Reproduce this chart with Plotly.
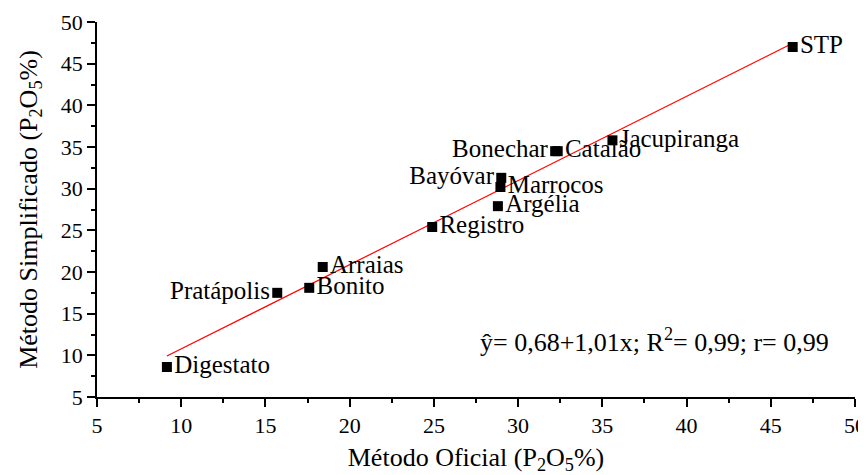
import plotly.graph_objects as go

names = ["Digestato", "Pratápolis", "Bonito", "Arraias", "Registro", "Argélia",
         "Marrocos", "Bayóvar", "Bonechar", "Catalão", "Jacupiranga", "STP"]
oficial = [9.15, 15.7, 17.6, 18.4, 24.9, 28.8, 28.95, 29.0, 32.2, 32.35, 35.6, 46.3]
simplificado = [8.6, 17.5, 18.1, 20.6, 25.4, 27.9, 30.2, 31.3, 34.5, 34.5, 35.8, 47.0]
label_pos = ["middle right", "middle left", "middle right", "middle right", "middle right",
             "middle right", "middle right", "middle left", "middle left", "middle right",
             "middle right", "middle right"]

intercept = 0.68
slope = 1.01
fit_x = [min(oficial), max(oficial)]
fit_y = [intercept + slope * v for v in fit_x]

xticks = [5, 10, 15, 20, 25, 30, 35, 40, 45, 50]
yticks = [5, 10, 15, 20, 25, 30, 35, 40, 45, 50]

font_family = "Times New Roman, Liberation Serif, serif"

fig = go.Figure()
fig.add_trace(go.Scatter(
    x=fit_x, y=fit_y, mode="lines",
    line=dict(color="red", width=1.2), showlegend=False, hoverinfo="skip"))
fig.add_trace(go.Scatter(
    x=oficial, y=simplificado, mode="markers+text",
    text=names, textposition=label_pos,
    textfont=dict(family=font_family, size=25, color="black"),
    marker=dict(symbol="square", size=10, color="black"),
    showlegend=False))

fig.add_annotation(
    x=27.6, y=11.8, xref="x", yref="y", xanchor="left", yanchor="middle",
    text="ŷ= 0,68+1,01x; R<sup>2</sup>= 0,99; r= 0,99", showarrow=False,
    font=dict(family=font_family, size=26, color="black"))

axis_common = dict(
    showline=True, linecolor="black", linewidth=1.5, mirror=False,
    ticks="outside", ticklen=8, tickwidth=1.5, tickcolor="black",
    showgrid=False, zeroline=False, automargin=False,
    tickfont=dict(family=font_family, size=22, color="black"),
    minor=dict(ticks="outside", ticklen=4, tickwidth=1.5, tickcolor="black", dtick=2.5),
)

fig.update_xaxes(
    range=[5, 50], tickvals=xticks, ticktext=[str(v) for v in xticks],
    title=dict(text="Método Oficial (P<sub>2</sub>O<sub>5</sub>%)",
               font=dict(family=font_family, size=26, color="black"), standoff=24),
    **axis_common)
fig.update_yaxes(
    range=[5, 50], tickvals=yticks, ticktext=[str(v) for v in yticks],
    title=dict(text="Método Simplificado (P<sub>2</sub>O<sub>5</sub>%)",
               font=dict(family=font_family, size=26, color="black"), standoff=16),
    **axis_common)

fig.update_layout(
    width=858, height=467,
    margin=dict(l=89, r=11, t=14, b=78),
    plot_bgcolor="white", paper_bgcolor="white",
    font=dict(family=font_family, color="black"),
)

fig.write_html("out.html")
